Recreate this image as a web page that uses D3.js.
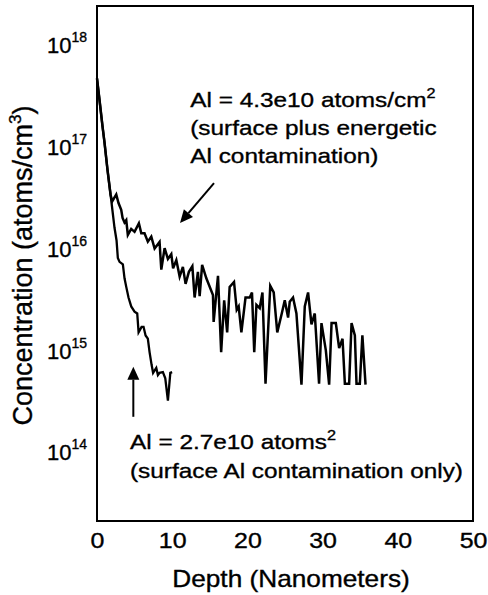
<!DOCTYPE html>
<html>
<head>
<meta charset="utf-8">
<script src="https://cdn.jsdelivr.net/npm/d3@7"></script>
<style>
  body { margin: 0; background: #fff; }
  text { font-family: "Liberation Sans", Arial, Helvetica, sans-serif; fill: #000; stroke: #000; stroke-width: 0.35px; }
</style>
</head>
<body>
<div id="chart"></div>
<script>
// 表面のみ (surface Al contamination only)
const surfaceDepth = [0, 0.33, 0.73, 1.0, 1.4, 1.89, 2.33, 2.6, 2.77, 3.0, 3.44, 3.66, 3.89, 4.19, 4.55, 4.99, 5.35,
  5.53, 5.93, 6.19, 6.46, 6.76, 6.99, 7.26, 7.46, 7.88, 8.1, 8.32, 8.76, 9.08, 9.43, 9.75, 9.99];
const surfaceConc = [4.7e17, 2.9e17, 1.6e17, 1.1e17, 5.9e16, 3.0e16, 1.6e16, 1.2e16, 8.1e15, 7.4e15, 7.0e15, 5.1e15, 4.2e15,
  3.3e15, 2.7e15, 2.4e15, 2.3e15, 1.5e15, 1.7e15, 1.7e15, 1.4e15, 1.3e15, 9.6e14, 7.2e14, 6.0e14, 6.7e14, 5.7e14,
  6.0e14, 6.1e14, 5.3e14, 3.2e14, 6.0e14, 6.1e14];

// 表面 + energetic
const energeticDepth = [0, 0.33, 0.73, 1.0, 1.4, 1.8, 2.02, 2.56, 2.86, 3.22, 3.4, 3.66, 3.89, 4.1, 4.55, 4.99, 5.57,
  5.89, 6.32, 6.76, 7.22, 7.66, 8.32, 8.55, 8.99, 9.43, 9.88, 10.12, 10.55, 10.99, 11.42, 11.78, 12.22, 12.68, 12.98,
  13.42, 13.65, 13.98, 14.54, 15.42, 15.51, 16.09, 16.51, 16.91, 17.31, 17.64, 18.22, 18.58, 18.84, 19.2, 19.75, 20.31,
  20.61, 20.91, 21.2, 21.64, 22.0, 22.41, 23.04, 23.5, 23.97, 24.57, 24.97, 25.41, 25.63, 26.07, 26.52, 27.19, 27.63,
  28.07, 28.52, 28.96, 29.53, 29.85, 30.43, 30.87, 31.19, 31.76, 32.2, 32.65, 32.96, 33.53, 33.85, 34.29, 34.51,
  34.95, 35.29, 35.71];
const energeticConc = [4.7e17, 2.9e17, 1.6e17, 1.1e17, 5.9e16, 3.4e16, 2.9e16, 3.4e16, 2.8e16, 2.4e16, 2.0e16, 1.8e16,
  1.9e16, 1.36e16, 1.56e16, 1.46e16, 1.77e16, 1.41e16, 1.41e16, 1.17e16, 1.31e16, 1.0e16, 1.16e16, 6.2e15, 1.01e16,
  7.9e15, 8.8e15, 6.4e15, 7.7e15, 5.3e15, 6.6e15, 4.5e15, 5.9e15, 6.7e15, 3.3e15, 5.9e15, 3.4e15, 6.9e15, 5.1e15,
  3.5e15, 1.9e15, 5.4e15, 9.6e14, 3.1e15, 1.5e15, 4.2e15, 4.7e15, 2.5e15, 2.7e15, 1.5e15, 3.3e15, 3.3e15, 3.7e15,
  9.6e14, 2.8e15, 2.6e15, 3.7e15, 4.7e14, 4.3e15, 3.7e15, 1.5e15, 2.3e15, 3.1e15, 2.1e15, 3.0e15, 3.3e15, 2.3e15,
  4.6e14, 2.7e15, 3.7e15, 1.8e15, 2.3e15, 4.7e14, 1.85e15, 1.0e15, 4.6e14, 1.85e15, 1.85e15, 1.05e15, 1.3e15,
  4.7e14, 4.7e14, 1.85e15, 1.4e15, 4.7e14, 4.7e14, 1.4e15, 4.6e14];

const xTicks = [0, 10, 20, 30, 40, 50];
const yTicks = [1e14, 1e15, 1e16, 1e17, 1e18];
const xDomain = [0, 50];
const yDomain = [2.1e13, 2.42e18];

// 横方向に少し引き伸ばしたフォント（元画像に合わせる）
const SX = 1.16;

const margin = {top: 6, right: 15, bottom: 74, left: 97};
const width = 488 - margin.left - margin.right;
const height = 595 - margin.top - margin.bottom;

const svg = d3.select("#chart").append("svg")
    .attr("width", 488)
    .attr("height", 595);
const g = svg.append("g")
    .attr("transform", "translate(" + margin.left + "," + margin.top + ")");

const x = d3.scaleLinear().domain(xDomain).range([0, width]);
const y = d3.scaleLog().domain(yDomain).range([height, 0]);

// 枠
g.append("rect")
    .attr("width", width)
    .attr("height", height)
    .attr("fill", "none")
    .attr("stroke", "#000")
    .attr("stroke-width", 2);

// x軸
const xAxis = g.append("g")
    .attr("transform", "translate(0," + height + ")")
    .call(d3.axisBottom(x).tickValues(xTicks).tickSize(0).tickPadding(12).tickFormat(d3.format("d")));
xAxis.select(".domain").remove();
xAxis.selectAll("text")
    .style("font-size", "21.5px")
    .attr("transform", "scale(" + SX + ",1)");

// y軸（10のべき乗表示）
const yAxis = g.append("g")
    .call(d3.axisLeft(y).tickValues(yTicks).tickSize(0));
yAxis.select(".domain").remove();
yAxis.selectAll("text").each(function(d) {
  const t = d3.select(this);
  t.text(null)
    .attr("x", -10)
    .attr("dy", "0.36em")
    .style("font-size", "22px");
  t.append("tspan").text("10");
  t.append("tspan").style("font-size", "14px").attr("dy", -11).text(Math.round(Math.log10(d)));
});

// 線
const line = d3.line()
    .x(d => x(d[0]))
    .y(d => y(d[1]));

g.append("path")
    .datum(energeticDepth.map((d, i) => [d, energeticConc[i]]))
    .attr("d", line)
    .attr("fill", "none")
    .attr("stroke", "#000")
    .attr("stroke-width", 2.5);

g.append("path")
    .datum(surfaceDepth.map((d, i) => [d, surfaceConc[i]]))
    .attr("d", line)
    .attr("fill", "none")
    .attr("stroke", "#000")
    .attr("stroke-width", 2.3);

// 矢印
function arrow(x0, y0, x1, y1) {
  const ax = x(x0), ay = y(y0), bx = x(x1), by = y(y1);
  const ang = Math.atan2(by - ay, bx - ax);
  const len = 13, half = 6;
  const cx = bx - len * Math.cos(ang), cy = by - len * Math.sin(ang);
  g.append("line")
      .attr("x1", ax).attr("y1", ay)
      .attr("x2", cx).attr("y2", cy)
      .attr("stroke", "#000").attr("stroke-width", 2);
  g.append("path")
      .attr("d", "M" + bx + "," + by +
        "L" + (cx - half * Math.sin(ang)) + "," + (cy + half * Math.cos(ang)) +
        "L" + (cx + half * Math.sin(ang)) + "," + (cy - half * Math.cos(ang)) + "Z")
      .attr("fill", "#000");
}
arrow(15.56, 4.4e16, 11.04, 1.78e16);
arrow(4.83, 2.22e14, 4.83, 6.9e14);

// 注記テキスト
function note(d, c, lines, lineGap) {
  lines.forEach(function(l, i) {
    const t = g.append("text")
        .attr("transform", "translate(" + x(d) + "," + (y(c) + i * lineGap) + ") scale(" + SX + ",1)")
        .style("font-size", "21px");
    t.append("tspan").text(l[0]);
    if (l[1]) t.append("tspan").style("font-size", "14px").attr("dy", -9).text(l[1]);
  });
}
note(12.4, 2.48e17, [["Al = 4.3e10 atoms/cm", "2"], ["(surface plus energetic"], ["Al contamination)"]], 28.4);
note(4.39, 1.06e14, [["Al = 2.7e10 atoms", "2"], ["(surface Al contamination only)"]], 29);

// 軸ラベル
svg.append("text")
    .attr("transform", "translate(" + (margin.left + x(25) + 6) + ",587) scale(1.14,1)")
    .attr("text-anchor", "middle")
    .style("font-size", "23px")
    .text("Depth (Nanometers)");

const yTitle = svg.append("text")
    .attr("transform", "translate(32," + (margin.top + height / 2 + 2) + ") rotate(-90)")
    .attr("text-anchor", "middle")
    .style("font-size", "27px");
yTitle.append("tspan").text("Concentration (atoms/cm");
yTitle.append("tspan").style("font-size", "17px").attr("dy", -11).text("3");
yTitle.append("tspan").attr("dy", 11).text(")");
</script>
</body>
</html>
